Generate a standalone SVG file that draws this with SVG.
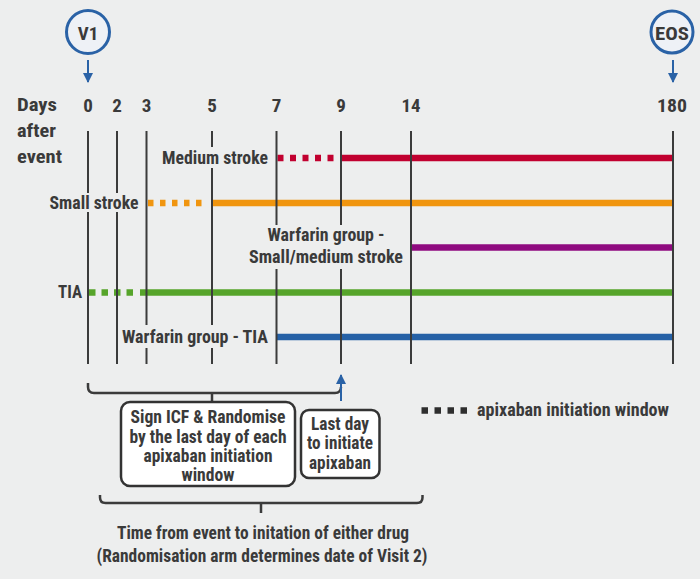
<svg xmlns="http://www.w3.org/2000/svg" width="700" height="579" viewBox="0 0 700 579">
<defs>
<style>
text{font-family:"Roboto Condensed",Roboto,"Liberation Sans",sans-serif;font-stretch:condensed;font-weight:700;fill:#3a3a3a;font-size:17.5px}
.big{font-size:19px}
.c{text-anchor:middle}
.e{text-anchor:end}
.v{stroke:#3b3b3b;stroke-width:2;fill:none}
.br{stroke:#3b3b3b;stroke-width:2.5;fill:none}
.h{stroke-width:6.5;fill:none}
.dot{stroke-dasharray:6 6.5}
.visit{fill:#eef1f6;stroke:#2a62a6;stroke-width:3}
.arr{stroke:#2a62a6;stroke-width:2;fill:none;marker-end:url(#ah)}
.box{fill:#ffffff;stroke:#333;stroke-width:2.5}
</style>
<marker id="ah" viewBox="0 0 10 10" refX="9" refY="5" markerWidth="5" markerHeight="5" orient="auto" markerUnits="strokeWidth">
<path d="M0 0 L10 5 L0 10 z" fill="#2a62a6"/>
</marker>
</defs>
<rect width="700" height="579" fill="#edeeee"/>

<g id="axis-labels">
<text class="big" x="17" y="111" textLength="40" lengthAdjust="spacingAndGlyphs">Days</text>
<text class="big" x="17" y="137" textLength="39" lengthAdjust="spacingAndGlyphs">after</text>
<text class="big" x="17" y="163" textLength="45" lengthAdjust="spacingAndGlyphs">event</text>
<text class="big c" x="88" y="112">0</text>
<text class="big c" x="117" y="112">2</text>
<text class="big c" x="146.5" y="112">3</text>
<text class="big c" x="212" y="112">5</text>
<text class="big c" x="276.5" y="112">7</text>
<text class="big c" x="341" y="112">9</text>
<text class="big c" x="411" y="112" textLength="19" lengthAdjust="spacingAndGlyphs">14</text>
<text class="big c" x="672" y="112" textLength="30" lengthAdjust="spacingAndGlyphs">180</text>
</g>

<g id="v1">
<circle class="visit" cx="88" cy="32" r="21.5"/>
<text class="big c" x="88" y="40">V1</text>
</g>
<g id="eos">
<circle class="visit" cx="672" cy="32" r="21"/>
<text class="big c" x="672" y="39.5" textLength="34" lengthAdjust="spacingAndGlyphs">EOS</text>
</g>

<g id="connectors">
<line class="arr" x1="88" y1="60" x2="88" y2="82"/>
<line class="arr" x1="673" y1="60" x2="673" y2="82"/>
<line class="h dot" x1="277.5" y1="158" x2="341" y2="158" stroke="#c1002f"/>
<line class="h" x1="341" y1="158" x2="673" y2="158" stroke="#c1002f"/>
<line class="h dot" x1="148" y1="203" x2="208" y2="203" stroke="#f0950f" style="stroke-dasharray:5.5 6.5"/>
<line class="h" x1="212" y1="203" x2="673" y2="203" stroke="#f0950f"/>
<line class="h" x1="411" y1="247.5" x2="673" y2="247.5" stroke="#8f0a7f"/>
<line class="h dot" x1="89" y1="292.5" x2="134" y2="292.5" stroke="#56a42a" style="stroke-dasharray:6.5 6"/>
<line class="h" x1="140" y1="292.5" x2="673" y2="292.5" stroke="#56a42a"/>
<line class="h" x1="277" y1="337" x2="673" y2="337" stroke="#2661a6"/>
<path class="v" d="M88 131V193M88 212V364"/>
<path class="v" d="M117 131V193M117 212V364"/>
<path class="v" d="M146.5 131V325M146.5 348V364"/>
<path class="v" d="M212 131V147M212 168V325M212 348V364"/>
<path class="v" d="M276.5 131V225M276.5 269V364"/>
<path class="v" d="M341 131V225M341 269V364"/>
<path class="v" d="M411 131V364"/>
<path class="v" d="M673 131V364"/>
<path class="br" d="M88 383V387Q88 393 94 393H335Q341 393 341 387M212 393V401.5"/>
<line class="arr" x1="341" y1="401" x2="341" y2="375"/>
<path class="br" d="M100 495V497.5Q100 503 105.5 503H417Q422.5 503 422.5 497.5V495M261 503V513"/>
</g>

<g id="track-labels">
<text class="e" x="268" y="164" textLength="106" lengthAdjust="spacingAndGlyphs">Medium stroke</text>
<text class="e" x="138.5" y="208.5" textLength="89" lengthAdjust="spacingAndGlyphs">Small stroke</text>
<text class="c" x="326" y="241" textLength="117" lengthAdjust="spacingAndGlyphs">Warfarin group -</text>
<text class="c" x="326" y="263" textLength="154" lengthAdjust="spacingAndGlyphs">Small/medium stroke</text>
<text class="e" x="82" y="298" textLength="24" lengthAdjust="spacingAndGlyphs">TIA</text>
<text x="122" y="343" textLength="146" lengthAdjust="spacingAndGlyphs">Warfarin group - TIA</text>
</g>

<g id="box-randomise">
<rect class="box" x="121" y="402" width="174" height="84" rx="9"/>
<text class="c" x="208" y="423" textLength="155" lengthAdjust="spacingAndGlyphs">Sign ICF &amp; Randomise</text>
<text class="c" x="208" y="442.5" textLength="157" lengthAdjust="spacingAndGlyphs">by the last day of each</text>
<text class="c" x="208" y="462" textLength="129" lengthAdjust="spacingAndGlyphs">apixaban initiation</text>
<text class="c" x="208" y="481" textLength="53" lengthAdjust="spacingAndGlyphs">window</text>
</g>

<g id="box-lastday">
<rect class="box" x="301" y="410" width="78.5" height="68" rx="8"/>
<text class="c" x="340" y="429.5" textLength="58" lengthAdjust="spacingAndGlyphs">Last day</text>
<text class="c" x="340" y="449" textLength="66" lengthAdjust="spacingAndGlyphs">to initiate</text>
<text class="c" x="340" y="468.5" textLength="62" lengthAdjust="spacingAndGlyphs">apixaban</text>
</g>

<g id="legend">
<line x1="421.5" y1="410.5" x2="467" y2="410.5" stroke="#2e2e2e" stroke-width="6.5" stroke-dasharray="6.5 6.5"/>
<text x="477" y="416" textLength="192" lengthAdjust="spacingAndGlyphs">apixaban initiation window</text>
</g>

<g id="footer">
<text class="c" x="263" y="539" textLength="292" lengthAdjust="spacingAndGlyphs">Time from event to initation of either drug</text>
<text class="c" x="262" y="561.5" textLength="331" lengthAdjust="spacingAndGlyphs">(Randomisation arm determines date of Visit 2)</text>
</g>
</svg>
